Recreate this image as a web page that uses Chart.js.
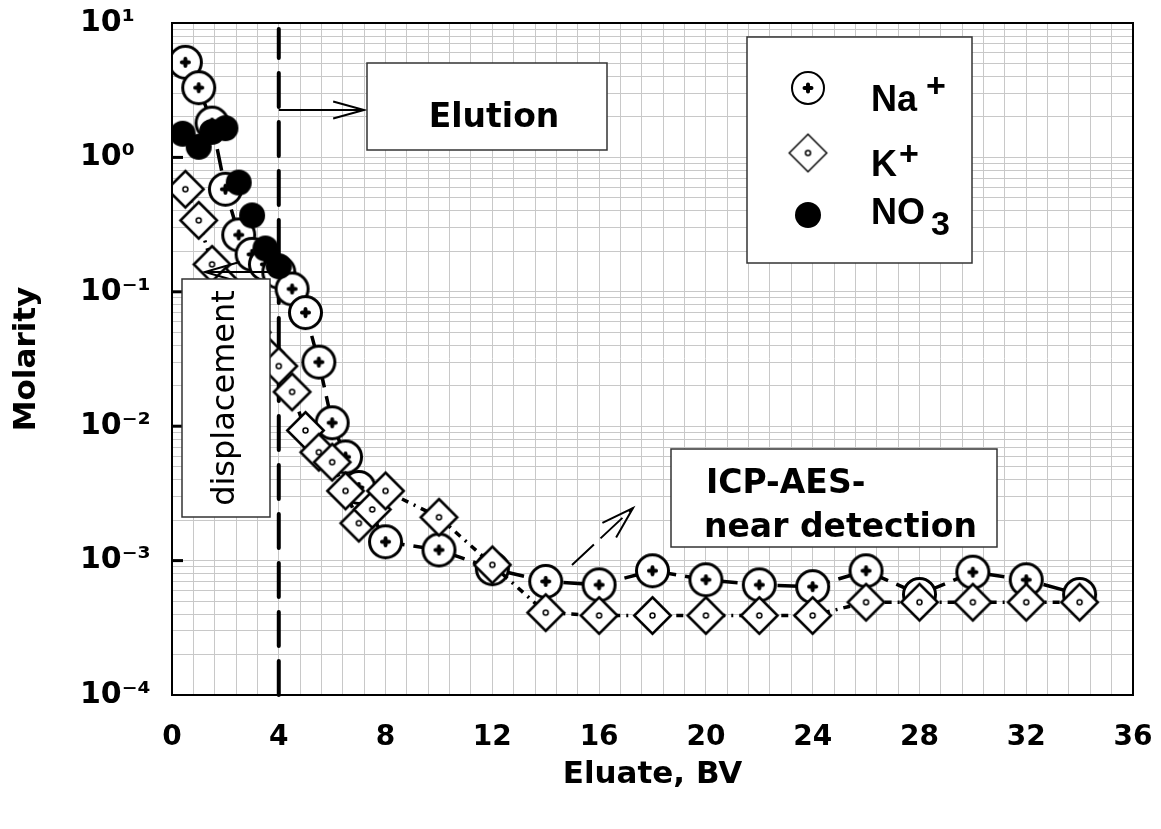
<!DOCTYPE html>
<html>
<head>
<meta charset="utf-8">
<script src="https://cdn.jsdelivr.net/npm/chart.js@4.4.1/dist/chart.umd.min.js"></script>
<style>
  html, body { margin: 0; padding: 0; background: #fff; }
  canvas { display: block; }
</style>
</head>
<body>
<canvas id="chart" width="1161" height="829"></canvas>
<script>
// eluate volume (BV) and molarity
const naBV = [0.5, 1, 1.5, 2, 2.5, 3, 3.5, 4, 4.5, 5, 5.5, 6, 6.5, 7, 8, 10, 12, 14, 16, 18, 20, 22, 24, 26, 28, 30, 32, 34];
const naM  = [5.1, 3.3, 1.8, 0.58, 0.265, 0.19, 0.16, 0.14, 0.105, 0.07, 0.030, 0.0106, 0.0059, 0.0035, 0.00138, 0.0012, 0.00087,
              0.0007, 0.00066, 0.00084, 0.00072, 0.00066, 0.00064, 0.00084, 0.00056, 0.00082, 0.00072, 0.00056];

const kBV = [0.5, 1, 1.5, 2, 2.5, 3, 3.5, 4, 4.5, 5, 5.5, 6, 6.5, 7, 7.5, 8, 10, 12, 14, 16, 18, 20, 22, 24, 26, 28, 30, 32, 34];
const kM  = [0.58, 0.34, 0.16, 0.11, 0.075, 0.05, 0.035, 0.028, 0.018, 0.0093, 0.0064, 0.0054, 0.0033, 0.0019, 0.0024, 0.0033,
             0.0021, 0.00093, 0.00041, 0.00039, 0.00039, 0.00039, 0.00039, 0.00039, 0.00049, 0.00049, 0.00049, 0.00049, 0.00049];

const no3BV = [0.4, 1, 1.5, 2, 2.5, 3, 3.5, 4];
const no3M  = [1.5, 1.2, 1.55, 1.65, 0.65, 0.37, 0.21, 0.155];

const xTickStep = 0.8;   // minor grid spacing
const xLabelStep = 4;
const FONT = "'DejaVu Sans', 'Liberation Sans', sans-serif";

const sup = { '0': '⁰', '1': '¹', '2': '²', '3': '³', '4': '⁴', '-': '⁻' };

function toPoints(xs, ys) {
    return xs.map((x, i) => ({ x: x, y: ys[i] }));
}

function makeCanvas(size) {
    const c = document.createElement('canvas');
    c.width = size; c.height = size;
    return c;
}

function naMarker(r, lw, plus) {
    const s = Math.ceil(2 * r + 4), c = makeCanvas(s), g = c.getContext('2d'), m = s / 2;
    g.beginPath();
    g.arc(m, m, r - lw / 2, 0, Math.PI * 2);
    g.fillStyle = '#fff'; g.fill();
    g.lineWidth = lw; g.strokeStyle = '#000'; g.stroke();
    g.lineWidth = plus; g.lineCap = 'round';
    g.beginPath();
    g.moveTo(m - 3.5, m); g.lineTo(m + 3.5, m);
    g.moveTo(m, m - 3.5); g.lineTo(m, m + 3.5);
    g.stroke();
    return c;
}

function kMarker(h, lw) {
    const s = Math.ceil(2 * h + 4), c = makeCanvas(s), g = c.getContext('2d'), m = s / 2;
    const hh = h - lw / 2;
    g.beginPath();
    g.moveTo(m, m - hh); g.lineTo(m + hh, m); g.lineTo(m, m + hh); g.lineTo(m - hh, m); g.closePath();
    g.fillStyle = '#fff'; g.fill();
    g.lineWidth = lw; g.lineJoin = 'miter'; g.strokeStyle = '#000'; g.stroke();
    g.beginPath();
    g.arc(m, m, 2.5, 0, Math.PI * 2);
    g.lineWidth = 1.5; g.stroke();
    return c;
}

function dotMarker(r) {
    const s = Math.ceil(2 * r + 2), c = makeCanvas(s), g = c.getContext('2d'), m = s / 2;
    g.beginPath();
    g.arc(m, m, r, 0, Math.PI * 2);
    g.fillStyle = '#000'; g.fill();
    return c;
}

const naImg = naMarker(17.5, 3, 4);
const kImg = kMarker(19.5, 2.5);
const no3Img = dotMarker(13);
const naLeg = naMarker(17, 2, 4);
const kLeg = kMarker(19.5, 1.5);

function arrow(g, x1, y1, x2, y2, head, spread) {
    const a = Math.atan2(y2 - y1, x2 - x1);
    g.beginPath();
    g.moveTo(x1, y1); g.lineTo(x2, y2);
    g.stroke();
    g.setLineDash([]);
    g.beginPath();
    g.moveTo(x2 - head * Math.cos(a - spread), y2 - head * Math.sin(a - spread));
    g.lineTo(x2, y2);
    g.lineTo(x2 - head * Math.cos(a + spread), y2 - head * Math.sin(a + spread));
    g.stroke();
}

function box(g, x, y, w, h) {
    g.fillStyle = '#fff';
    g.fillRect(x, y, w, h);
    g.lineWidth = 1.5; g.strokeStyle = '#333';
    g.strokeRect(x, y, w, h);
}

const underPlugin = {
    id: 'under',
    beforeDatasetsDraw(chart) {
        const g = chart.ctx, a = chart.chartArea, xs = chart.scales.x;
        const x4 = xs.getPixelForValue(4);
        g.save();
        g.strokeStyle = '#000'; g.lineWidth = 4; g.lineCap = 'round';
        g.setLineDash([34, 15]);
        g.beginPath();
        g.moveTo(x4, a.bottom); g.lineTo(x4, a.top + 6);
        g.stroke();
        g.restore();
    }
};

const notesPlugin = {
    id: 'notes',
    afterDatasetsDraw(chart) {
        const g = chart.ctx, a = chart.chartArea, xs = chart.scales.x, ys = chart.scales.y;
        g.save();
        // frame + inward decade ticks
        g.strokeStyle = '#000'; g.lineWidth = 2;
        g.strokeRect(a.left, a.top, a.right - a.left, a.bottom - a.top);
        g.lineWidth = 3;
        for (let e = -3; e <= 0; e++) {
            const y = ys.getPixelForValue(Math.pow(10, e));
            g.beginPath(); g.moveTo(a.left, y); g.lineTo(a.left + 11, y); g.stroke();
        }

        const x4 = xs.getPixelForValue(4);
        g.lineWidth = 2; g.strokeStyle = '#000';
        // Elution
        arrow(g, x4, 110, 364, 110, 32, 0.27);
        box(g, 367, 63, 240, 87);
        g.fillStyle = '#000'; g.textAlign = 'center'; g.textBaseline = 'alphabetic';
        g.font = 'bold 33px ' + FONT;
        g.fillText('Elution', 494, 127);

        // displacement
        g.lineWidth = 2; g.strokeStyle = '#000';
        arrow(g, x4, 272, 205, 272, 36, 0.28);
        box(g, 182, 279, 88, 238);
        g.save();
        g.translate(226, 398); g.rotate(-Math.PI / 2);
        g.fillStyle = '#000'; g.font = '32px ' + FONT;
        g.textAlign = 'center'; g.textBaseline = 'middle';
        g.fillText('displacement', 0, 0);
        g.restore();

        // ICP-AES
        g.lineWidth = 2; g.strokeStyle = '#000';
        g.setLineDash([30, 9]);
        arrow(g, 572, 565, 633, 508, 34, 0.3);
        g.setLineDash([]);
        box(g, 671, 449, 326, 98);
        g.fillStyle = '#000'; g.textAlign = 'left';
        g.font = 'bold 33px ' + FONT;
        g.fillText('ICP-AES-', 706, 493);
        g.fillText('near detection', 704, 537);

        // legend
        box(g, 747, 37, 225, 226);
        g.drawImage(naLeg, 808 - naLeg.width / 2, 88 - naLeg.height / 2);
        g.drawImage(kLeg, 808 - kLeg.width / 2, 153 - kLeg.height / 2);
        g.drawImage(no3Img, 808 - no3Img.width / 2, 215 - no3Img.height / 2);
        g.fillStyle = '#000';
        g.font = "bold 36px 'Liberation Sans', Arial, sans-serif";
        g.fillText('Na', 871, 111);
        g.fillText('K', 871, 176);
        g.fillText('NO', 871, 224);
        g.font = "bold 34px 'Liberation Sans', Arial, sans-serif";
        g.fillText('+', 926, 97);
        g.fillText('+', 899, 165);
        g.fillText('3', 931, 235);
        g.restore();
    }
};

new Chart(document.getElementById('chart'), {
    type: 'scatter',
    data: {
        datasets: [
            {
                label: 'Na+', data: toPoints(naBV, naM), order: 2, showLine: true,
                borderColor: '#000', borderWidth: 3.5, borderDash: [22, 9],
                pointStyle: naImg, pointRadius: 17
            },
            {
                label: 'K+', data: toPoints(kBV, kM), order: 1, showLine: true,
                borderColor: '#000', borderWidth: 3.5, borderDash: [7, 6, 2, 6],
                pointStyle: kImg, pointRadius: 19
            },
            {
                label: 'NO3', data: toPoints(no3BV, no3M), order: 0, showLine: false,
                pointStyle: no3Img, pointRadius: 13
            }
        ]
    },
    options: {
        responsive: false,
        animation: false,
        devicePixelRatio: 1,
        layout: { padding: { left: 80, top: 23, right: 28, bottom: 31 } },
        plugins: { legend: { display: false }, tooltip: { enabled: false } },
        scales: {
            x: {
                type: 'linear', min: 0, max: 36,
                afterBuildTicks(scale) {
                    const t = [];
                    for (let i = 0; i <= 45; i++) t.push({ value: +(i * xTickStep).toFixed(2) });
                    scale.ticks = t;
                },
                afterFit(scale) { scale.height = 829 - 31 - 695; },
                grid: { color: '#c8c8c8', lineWidth: 1, drawTicks: true, tickLength: 24, tickColor: 'rgba(0,0,0,0)' },
                border: { display: true, color: '#000', width: 2 },
                ticks: {
                    autoSkip: false, maxRotation: 0, padding: 2, color: '#000',
                    font: { family: FONT, size: 28, weight: 'bold' },
                    callback(v) {
                        const q = v / xLabelStep;
                        return Math.abs(q - Math.round(q)) < 1e-6 ? String(Math.round(v)) : '';
                    }
                },
                title: {
                    display: true, text: 'Eluate, BV', color: '#000',
                    font: { family: FONT, size: 31, weight: 'bold' }
                }
            },
            y: {
                type: 'logarithmic', min: 1e-4, max: 10,
                afterBuildTicks(scale) {
                    const t = [];
                    for (let e = -4; e <= 0; e++) {
                        for (let m = 1; m <= 9; m++) t.push({ value: m * Math.pow(10, e), major: m === 1 });
                    }
                    t.push({ value: 10, major: true });
                    scale.ticks = t;
                },
                afterFit(scale) { scale.width = 172 - 80; },
                grid: { color: '#c8c8c8', lineWidth: 1, drawTicks: true, tickLength: 20, tickColor: 'rgba(0,0,0,0)' },
                border: { display: true, color: '#000', width: 2 },
                ticks: {
                    autoSkip: false, padding: 0, color: '#000', crossAlign: 'far',
                    font: { family: FONT, size: 30, weight: 'bold' },
                    callback(v) {
                        const e = Math.log10(v);
                        if (Math.abs(e - Math.round(e)) > 1e-6) return '';
                        return '10' + String(Math.round(e)).split('').map(c => sup[c]).join('');
                    }
                },
                title: {
                    display: true, text: 'Molarity', color: '#000',
                    padding: { top: -72, bottom: 0 },
                    font: { family: FONT, size: 31, weight: 'bold' }
                }
            }
        }
    },
    plugins: [underPlugin, notesPlugin]
});
</script>
</body>
</html>
